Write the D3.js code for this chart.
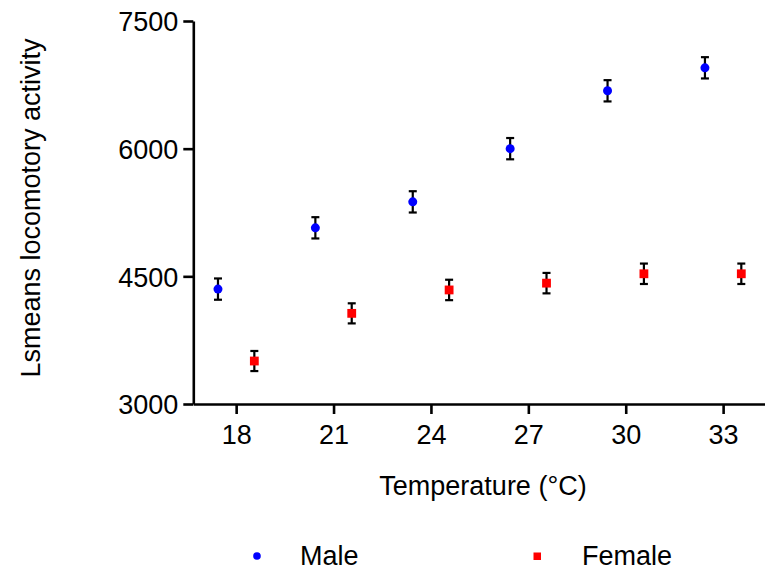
<!doctype html>
<html>
<head>
<meta charset="utf-8">
<script src="https://cdnjs.cloudflare.com/ajax/libs/d3/7.8.5/d3.min.js"></script>
<style>
  body { margin: 0; background: #fff; }
  text { font-family: "Liberation Sans", Arial, sans-serif; fill: #000; }
</style>
</head>
<body>
<svg id="chart" width="765" height="574"></svg>
<script>
// temperatures (°C) and lsmeans +/- error
var temps = [18, 21, 24, 27, 30, 33];
var maleMean = [4350, 5070, 5375, 6000, 6680, 6950];
var maleErr = [125, 125, 125, 125, 125, 125];
var femaleMean = [3505, 4065, 4340, 4420, 4530, 4530];
var femaleErr = [118, 118, 120, 120, 120, 120];
var yTicks = [3000, 4500, 6000, 7500];
var xTicks = [18, 21, 24, 27, 30, 33];

var svg = d3.select("#chart");

var x = d3.scaleLinear().domain([16.68, 34.29]).range([193.3, 765]);
var y = d3.scaleLinear().domain([3000, 7500]).range([404, 21]);
var dodge = 0.56;

// axes
var yAxis = d3.axisLeft(y).tickValues(yTicks).tickFormat(d3.format("d"))
  .tickSize(10).tickSizeOuter(0).tickPadding(5);
var gy = svg.append("g").attr("transform", "translate(193.3,0)").call(yAxis);

var xAxis = d3.axisBottom(x).tickValues(xTicks).tickSize(10).tickSizeOuter(0).tickPadding(11);
var gx = svg.append("g").attr("transform", "translate(0,404)").call(xAxis);

[gx, gy].forEach(function(g) {
  g.select(".domain").attr("stroke", "#000").attr("stroke-width", 2.6);
  g.selectAll(".tick line").attr("stroke", "#000").attr("stroke-width", 2.6);
  g.selectAll(".tick text").style("font-size", "27px").attr("fill", "#000");
});
gy.selectAll(".tick text").attr("dy", "0.36em");

// axis titles
svg.append("text")
  .attr("x", 483).attr("y", 495)
  .attr("text-anchor", "middle")
  .style("font-size", "27px")
  .text("Temperature (\u00B0C)");

svg.append("text")
  .attr("transform", "translate(40,208) rotate(-90)")
  .attr("text-anchor", "middle")
  .style("font-size", "27px")
  .text("Lsmeans locomotory activity");

function series(mean, err, off) {
  return temps.map(function(t, i) { return { t: t + off, m: mean[i], e: err[i] }; });
}
var male = series(maleMean, maleErr, -dodge);
var female = series(femaleMean, femaleErr, dodge);

function errorBars(data) {
  var g = svg.append("g").attr("stroke", "#000").attr("stroke-width", 2.2);
  data.forEach(function(d) {
    var cx = x(d.t), y0 = y(d.m - d.e), y1 = y(d.m + d.e);
    g.append("line").attr("x1", cx).attr("x2", cx).attr("y1", y0).attr("y2", y1);
    g.append("line").attr("x1", cx - 4).attr("x2", cx + 4).attr("y1", y0).attr("y2", y0);
    g.append("line").attr("x1", cx - 4).attr("x2", cx + 4).attr("y1", y1).attr("y2", y1);
  });
}
errorBars(male);
errorBars(female);

svg.append("g").selectAll("circle").data(male).enter().append("circle")
  .attr("cx", function(d) { return x(d.t); })
  .attr("cy", function(d) { return y(d.m); })
  .attr("r", 4.5)
  .attr("fill", "#0000ff");

svg.append("g").selectAll("rect").data(female).enter().append("rect")
  .attr("x", function(d) { return x(d.t) - 4.4; })
  .attr("y", function(d) { return y(d.m) - 4.4; })
  .attr("width", 8.8).attr("height", 8.8)
  .attr("fill", "#ff0000");

// legend
var leg = svg.append("g");
leg.append("circle").attr("cx", 257).attr("cy", 556).attr("r", 3.8).attr("fill", "#0000ff");
leg.append("text").attr("x", 300).attr("y", 565).style("font-size", "27px").text("Male");
leg.append("rect").attr("x", 533.5).attr("y", 552.5).attr("width", 7.5).attr("height", 7.5).attr("fill", "#ff0000");
leg.append("text").attr("x", 582).attr("y", 565).style("font-size", "27px").text("Female");
</script>
</body>
</html>
